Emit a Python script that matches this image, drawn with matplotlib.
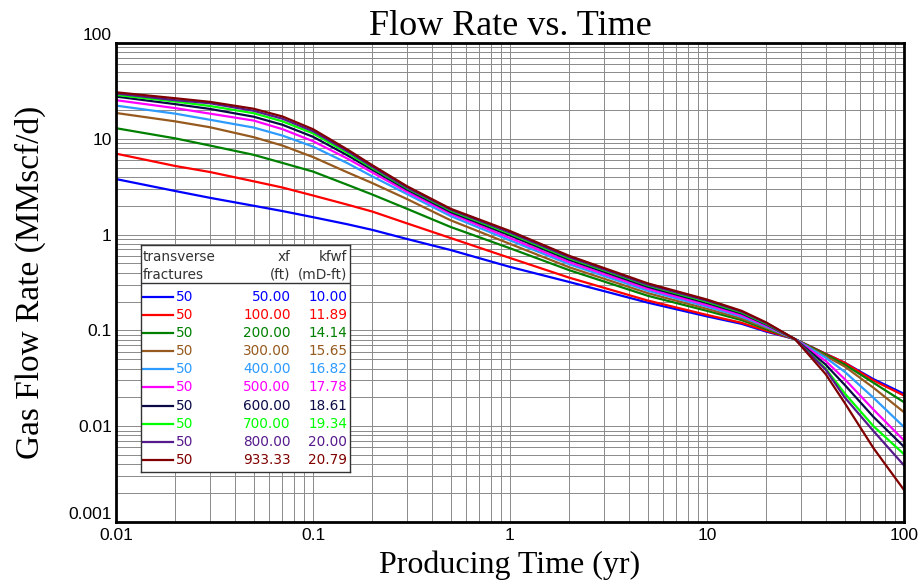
import matplotlib.pyplot as plt
import numpy as np
from matplotlib.ticker import LogLocator, FixedLocator, FixedFormatter, NullFormatter

# producing time (yr) at which the curves were read
t_yr = [0.01, 0.02, 0.03, 0.05, 0.07, 0.1, 0.15, 0.2, 0.3, 0.5, 1, 2, 5, 10, 15, 20, 28, 40, 50, 70, 100]

# gas flow rate (MMscf/d), one list per fracture half-length
q_50  = [3.8, 2.85, 2.42, 2.0, 1.76, 1.52, 1.28, 1.12, 0.90, 0.69, 0.46, 0.32, 0.195, 0.140, 0.117, 0.097, 0.081, 0.057, 0.046, 0.031, 0.0218]
q_100 = [7.0, 5.2, 4.5, 3.6, 3.1, 2.56, 2.05, 1.74, 1.31, 0.92, 0.57, 0.355, 0.205, 0.145, 0.120, 0.099, 0.081, 0.057, 0.046, 0.030, 0.0209]
q_200 = [12.9, 10.1, 8.5, 6.8, 5.6, 4.55, 3.3, 2.62, 1.86, 1.20, 0.72, 0.425, 0.230, 0.160, 0.128, 0.103, 0.081, 0.056, 0.044, 0.0284, 0.0178]
q_300 = [18.6, 15.2, 13.2, 10.4, 8.5, 6.45, 4.45, 3.45, 2.35, 1.41, 0.80, 0.456, 0.245, 0.168, 0.133, 0.106, 0.081, 0.054, 0.042, 0.0252, 0.0140]
q_400 = [22.2, 18.3, 15.8, 13.1, 10.8, 8.3, 5.55, 4.05, 2.65, 1.56, 0.87, 0.49, 0.260, 0.177, 0.139, 0.109, 0.081, 0.052, 0.037, 0.0198, 0.0098]
q_500 = [25.3, 20.9, 18.3, 15.5, 12.6, 9.45, 6.2, 4.45, 2.8, 1.65, 0.92, 0.515, 0.272, 0.184, 0.144, 0.112, 0.081, 0.048, 0.031, 0.0149, 0.0071]
q_600 = [27.6, 23.0, 20.5, 17.0, 14.0, 10.5, 6.7, 4.75, 2.95, 1.72, 0.98, 0.545, 0.285, 0.193, 0.150, 0.115, 0.081, 0.044, 0.027, 0.0125, 0.0061]
q_700 = [28.7, 24.5, 22.0, 18.5, 15.2, 11.4, 7.1, 4.95, 3.05, 1.78, 1.02, 0.565, 0.295, 0.199, 0.154, 0.117, 0.081, 0.040, 0.022, 0.0100, 0.0051]
q_800 = [29.7, 25.3, 23.5, 19.6, 16.2, 12.0, 7.4, 5.1, 3.1, 1.82, 1.05, 0.58, 0.300, 0.204, 0.157, 0.119, 0.081, 0.039, 0.020, 0.0089, 0.0039]
q_933 = [30.6, 26.5, 24.3, 20.6, 17.1, 12.6, 7.7, 5.3, 3.2, 1.86, 1.09, 0.60, 0.310, 0.210, 0.160, 0.121, 0.081, 0.035, 0.0175, 0.0059, 0.00216]

n_frac = [50, 50, 50, 50, 50, 50, 50, 50, 50, 50]
xf_ft = [50.00, 100.00, 200.00, 300.00, 400.00, 500.00, 600.00, 700.00, 800.00, 933.33]
kfwf = [10.00, 11.89, 14.14, 15.65, 16.82, 17.78, 18.61, 19.34, 20.00, 20.79]

curves = [q_50, q_100, q_200, q_300, q_400, q_500, q_600, q_700, q_800, q_933]
colors = ['#0000ff', '#ff0000', '#008000', '#965a1e', '#2d9bff',
          '#ff00ff', '#0a0a46', '#00ff00', '#551a8b', '#800000']

fig = plt.figure(figsize=(9.19, 5.86), dpi=100)
ax = fig.add_axes([116/919, 64/586, 788/919, 479/586])

for q, c in zip(curves, colors):
    ax.plot(t_yr, q, color=c, linewidth=1.6)

ax.set_xscale('log')
ax.set_yscale('log')
ax.set_xlim(0.01, 100)
ax.set_ylim(0.001, 100)

ax.xaxis.set_major_locator(FixedLocator([0.01, 0.1, 1, 10, 100]))
ax.xaxis.set_major_formatter(FixedFormatter(['0.01', '0.1', '1', '10', '100']))
ax.yaxis.set_major_locator(FixedLocator([0.001, 0.01, 0.1, 1, 10, 100]))
ax.yaxis.set_major_formatter(FixedFormatter(['0.001', '0.01', '0.1', '1', '10', '100']))
ax.xaxis.set_minor_locator(LogLocator(base=10, subs=np.arange(2, 10)))
ax.yaxis.set_minor_locator(LogLocator(base=10, subs=np.arange(2, 10)))
ax.xaxis.set_minor_formatter(NullFormatter())
ax.yaxis.set_minor_formatter(NullFormatter())
ax.tick_params(which='both', length=0)
ax.tick_params(axis='x', pad=4, labelsize=12.5)
ax.tick_params(axis='y', pad=3, labelsize=12.5)
for lab in ax.get_xticklabels() + ax.get_yticklabels():
    lab.set_family('Liberation Sans')
ylabs = ax.get_yticklabels()
ylabs[0].set_va('bottom')
ylabs[-1].set_va('bottom')

ax.grid(which='both', color='#8a8a8a', linewidth=0.7)
ax.set_axisbelow(True)
for s in ax.spines.values():
    s.set_linewidth(2)
    s.set_color('black')

ax.set_title('Flow Rate vs. Time', family='Liberation Serif', fontsize=26, pad=6)
ax.set_xlabel('Producing Time (yr)', family='Liberation Serif', fontsize=23, labelpad=6)
ax.set_ylabel('Gas Flow Rate (MMscf/d)', family='Liberation Serif', fontsize=24, labelpad=16)

# legend table drawn in a small axes (units = pixels inside the box)
lg = fig.add_axes([140.7/919, (586-471.7)/586, 209.3/919, 227/586])
lg.set_xlim(0, 209.3)
lg.set_ylim(227, 0)
lg.set_xticks([])
lg.set_yticks([])
for s in lg.spines.values():
    s.set_linewidth(1)
    s.set_color('#333333')
fs = 9.8
tc = '#333333'
lg.text(2, 12.6, 'transverse', ha='left', va='center', fontsize=fs, color=tc)
lg.text(2, 30.3, 'fractures', ha='left', va='center', fontsize=fs, color=tc)
lg.text(150, 12.6, 'xf', ha='right', va='center', fontsize=fs, color=tc)
lg.text(150, 30.3, '(ft)', ha='right', va='center', fontsize=fs, color=tc)
lg.text(206.6, 12.6, 'kfwf', ha='right', va='center', fontsize=fs, color=tc)
lg.text(206.6, 30.3, '(mD-ft)', ha='right', va='center', fontsize=fs, color=tc)
lg.axhline(38.6, color='#333333', linewidth=1)
for i, c in enumerate(colors):
    y = 52 + i*18.15
    lg.plot([2, 32], [y, y], color=c, linewidth=1.6)
    lg.text(35.3, y, str(n_frac[i]), ha='left', va='center', fontsize=fs, color=c)
    lg.text(150, y, '%.2f' % xf_ft[i], ha='right', va='center', fontsize=fs, color=c)
    lg.text(206.6, y, '%.2f' % kfwf[i], ha='right', va='center', fontsize=fs, color=c)

plt.savefig('out.png', dpi=100)
